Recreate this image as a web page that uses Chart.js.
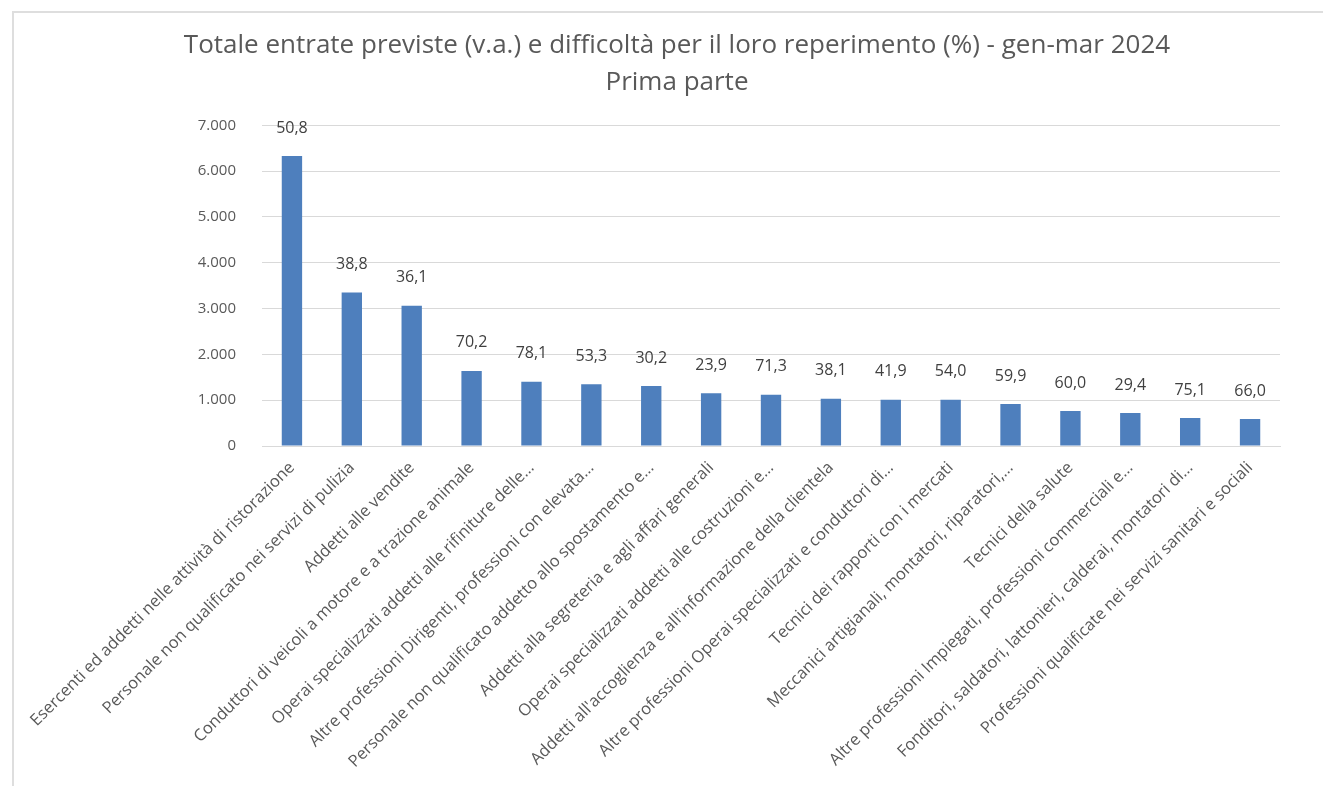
<!DOCTYPE html>
<html>
<head>
<meta charset="utf-8">
<script src="https://cdn.jsdelivr.net/npm/chart.js@4.4.1/dist/chart.umd.min.js"></script>
<style>
  html, body { margin: 0; padding: 0; background: #ffffff; }
  #wrap { position: relative; width: 1323px; height: 786px; overflow: hidden; }
  #frame { position: absolute; left: 12px; top: 11px; width: 1400px; height: 900px;
           border-top: 2px solid #dedede; border-left: 2px solid #dedede; pointer-events: none; }
  canvas { position: absolute; left: 0; top: 0; }
</style>
</head>
<body>
<div id="wrap">
  <div id="frame"></div>
  <canvas id="c" width="1323" height="786"></canvas>
</div>
<script>
const titleLines = [
  "Totale entrate previste (v.a.) e difficoltà per il loro reperimento (%) - gen-mar 2024",
  "Prima parte"
];
const categories = [
  "Esercenti ed addetti nelle attività di ristorazione",
  "Personale non qualificato nei servizi di pulizia",
  "Addetti alle vendite",
  "Conduttori di veicoli a motore e a trazione animale",
  "Operai specializzati addetti alle rifiniture delle…",
  "Altre professioni Dirigenti, professioni con elevata…",
  "Personale non qualificato addetto allo spostamento e…",
  "Addetti alla segreteria e agli affari generali",
  "Operai specializzati addetti alle costruzioni e…",
  "Addetti all'accoglienza e all'informazione della clientela",
  "Altre professioni Operai specializzati e conduttori di…",
  "Tecnici dei rapporti con i mercati",
  "Meccanici artigianali, montatori, riparatori,…",
  "Tecnici della salute",
  "Altre professioni Impiegati, professioni commerciali e…",
  "Fonditori, saldatori, lattonieri, calderai, montatori di…",
  "Professioni qualificate nei servizi sanitari e sociali"
];
const entrate = [6330, 3350, 3060, 1640, 1400, 1350, 1310, 1150, 1120, 1030, 1010, 1010, 915, 765, 720, 610, 590];
const difficolta = [50.8, 38.8, 36.1, 70.2, 78.1, 53.3, 30.2, 23.9, 71.3, 38.1, 41.9, 54.0, 59.9, 60.0, 29.4, 75.1, 66.0];
const yMin = 0, yMax = 7000, yStep = 1000;

const FONT = "'Open Sans', 'Noto Sans', sans-serif";
const GREY = "#595959";

function fmtThousands(v) {
  return String(Math.round(v)).replace(/\B(?=(\d{3})+(?!\d))/g, ".");
}
function fmtPct(v) {
  return v.toFixed(1).replace(".", ",");
}

const valueLabels = {
  id: "valueLabels",
  afterDatasetsDraw(chart) {
    const ctx = chart.ctx;
    const meta = chart.getDatasetMeta(0);
    ctx.save();
    ctx.font = "16px " + FONT;
    ctx.fillStyle = "#404040";
    ctx.textAlign = "center";
    ctx.textBaseline = "middle";
    meta.data.forEach((bar, i) => {
      ctx.fillText(fmtPct(difficolta[i]), bar.x, bar.y - 28);
    });
    ctx.restore();
  }
};

new Chart(document.getElementById("c"), {
  type: "bar",
  data: {
    labels: categories,
    datasets: [{
      label: "Entrate previste",
      data: entrate,
      backgroundColor: "#4e7fbd",
      borderWidth: 0,
      barPercentage: 0.34,
      categoryPercentage: 1.0
    }]
  },
  options: {
    responsive: false,
    animation: false,
    layout: { padding: { top: 27, right: 43, left: 74, bottom: 0 } },
    plugins: {
      legend: { display: false },
      tooltip: { enabled: false },
      title: {
        display: true,
        text: titleLines,
        color: GREY,
        font: { family: FONT, size: 26, weight: "normal", lineHeight: 1.43 },
        padding: { top: 0, bottom: 24 }
      }
    },
    scales: {
      x: {
        grid: { display: false, drawTicks: false },
        border: { display: true, color: "#d9d9d9", width: 1 },
        ticks: {
          color: GREY,
          font: { family: FONT, size: 16.5 },
          minRotation: 45,
          maxRotation: 45,
          autoSkip: false,
          padding: 12
        },
        afterFit(scale) { scale.height = 340; }
      },
      y: {
        min: yMin,
        max: yMax,
        grid: { color: "#d9d9d9", lineWidth: 1, drawTicks: false },
        border: { display: false },
        ticks: {
          stepSize: yStep,
          color: GREY,
          font: { family: FONT, size: 15 },
          padding: 26,
          callback: (v) => fmtThousands(v)
        },
        afterFit(scale) { scale.width = 188; }
      }
    }
  },
  plugins: [valueLabels]
});
</script>
</body>
</html>
